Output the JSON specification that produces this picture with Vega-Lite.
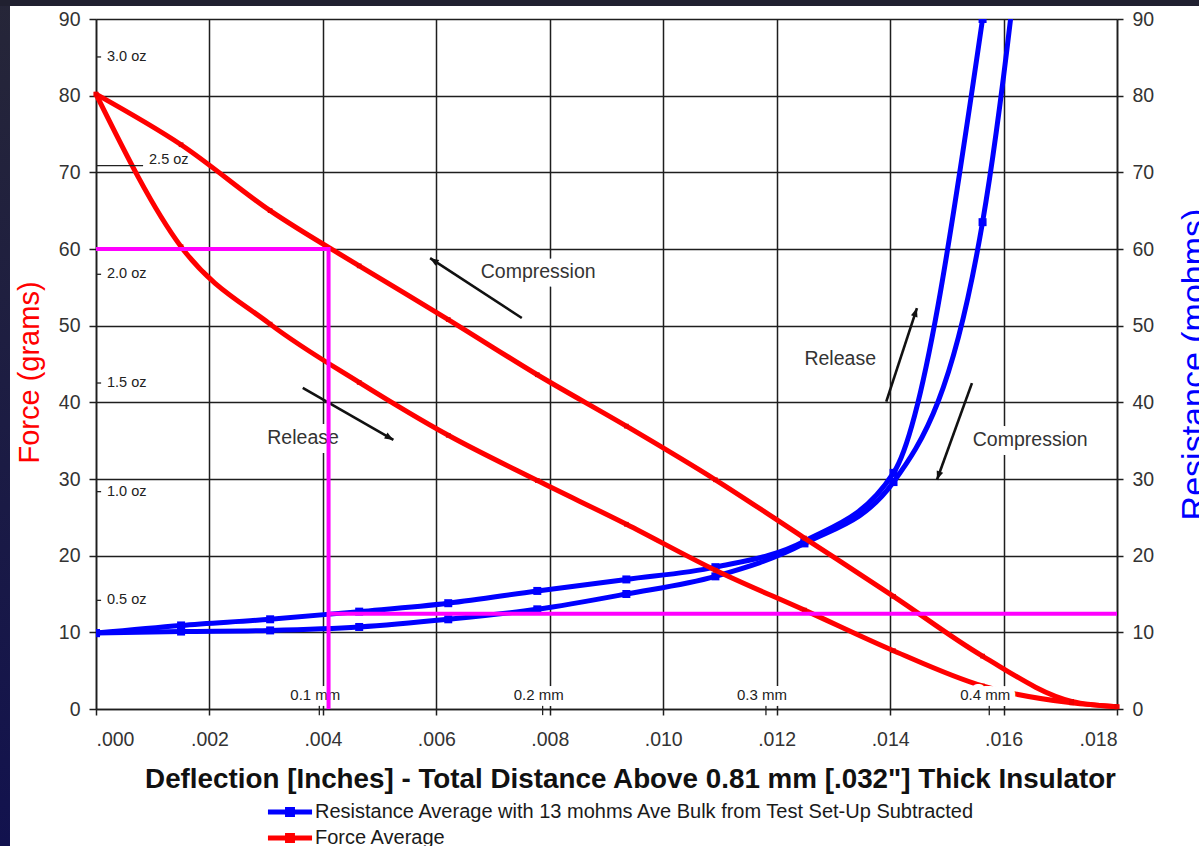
{
  "$schema": "https://vega.github.io/schema/vega-lite/v6.json",
  "width": 1021,
  "height": 690,
  "autosize": {"type": "none"},
  "padding": {"left": 96, "top": 19, "right": 82, "bottom": 137},
  "background": "white",
  "config": {
    "font": "Liberation Sans",
    "view": {"stroke": null},
    "axis": {
      "labelFont": "Liberation Sans",
      "titleFont": "Liberation Sans",
      "labelFontSize": 19.5,
      "labelColor": "#333333",
      "domainColor": "#1e1e1e",
      "domainWidth": 1.6,
      "tickColor": "#1e1e1e",
      "tickWidth": 1.5,
      "gridColor": "#1e1e1e",
      "gridWidth": 1.5,
      "gridOpacity": 1
    },
    "text": {"font": "Liberation Sans"}
  },
  "datasets": {
    "force": [
      {"series": "Force Average", "branch": "compression", "x": 0, "y": 80.2},
      {"series": "Force Average", "branch": "compression", "x": 0.0015, "y": 73.6},
      {"series": "Force Average", "branch": "compression", "x": 0.00307, "y": 65.0},
      {"series": "Force Average", "branch": "compression", "x": 0.00464, "y": 57.8},
      {"series": "Force Average", "branch": "compression", "x": 0.00621, "y": 50.8},
      {"series": "Force Average", "branch": "compression", "x": 0.00778, "y": 43.6},
      {"series": "Force Average", "branch": "compression", "x": 0.00935, "y": 36.9},
      {"series": "Force Average", "branch": "compression", "x": 0.01092, "y": 29.9},
      {"series": "Force Average", "branch": "compression", "x": 0.01249, "y": 22.3},
      {"series": "Force Average", "branch": "compression", "x": 0.01406, "y": 14.7},
      {"series": "Force Average", "branch": "compression", "x": 0.01563, "y": 6.9},
      {"series": "Force Average", "branch": "compression", "x": 0.0172, "y": 1.0},
      {"series": "Force Average", "branch": "compression", "x": 0.018, "y": 0.3},
      {"series": "Force Average", "branch": "release", "x": 0, "y": 80.2},
      {"series": "Force Average", "branch": "release", "x": 0.0015, "y": 60.3},
      {"series": "Force Average", "branch": "release", "x": 0.00307, "y": 50.2},
      {"series": "Force Average", "branch": "release", "x": 0.00464, "y": 42.6},
      {"series": "Force Average", "branch": "release", "x": 0.00621, "y": 35.7},
      {"series": "Force Average", "branch": "release", "x": 0.00778, "y": 29.8},
      {"series": "Force Average", "branch": "release", "x": 0.00935, "y": 24.1},
      {"series": "Force Average", "branch": "release", "x": 0.01092, "y": 18.1},
      {"series": "Force Average", "branch": "release", "x": 0.01249, "y": 12.9},
      {"series": "Force Average", "branch": "release", "x": 0.01406, "y": 7.6},
      {"series": "Force Average", "branch": "release", "x": 0.01563, "y": 3.0},
      {"series": "Force Average", "branch": "release", "x": 0.0172, "y": 0.8},
      {"series": "Force Average", "branch": "release", "x": 0.018, "y": 0.3}
    ],
    "resistance": [
      {"series": "Resistance Average with 13 mohms Ave Bulk from Test Set-Up Subtracted", "branch": "release", "x": 0, "y": 9.9},
      {"series": "Resistance Average with 13 mohms Ave Bulk from Test Set-Up Subtracted", "branch": "release", "x": 0.0015, "y": 10.9},
      {"series": "Resistance Average with 13 mohms Ave Bulk from Test Set-Up Subtracted", "branch": "release", "x": 0.00307, "y": 11.7},
      {"series": "Resistance Average with 13 mohms Ave Bulk from Test Set-Up Subtracted", "branch": "release", "x": 0.00464, "y": 12.7},
      {"series": "Resistance Average with 13 mohms Ave Bulk from Test Set-Up Subtracted", "branch": "release", "x": 0.00621, "y": 13.8},
      {"series": "Resistance Average with 13 mohms Ave Bulk from Test Set-Up Subtracted", "branch": "release", "x": 0.00778, "y": 15.4},
      {"series": "Resistance Average with 13 mohms Ave Bulk from Test Set-Up Subtracted", "branch": "release", "x": 0.00935, "y": 16.9},
      {"series": "Resistance Average with 13 mohms Ave Bulk from Test Set-Up Subtracted", "branch": "release", "x": 0.01092, "y": 18.5},
      {"series": "Resistance Average with 13 mohms Ave Bulk from Test Set-Up Subtracted", "branch": "release", "x": 0.01249, "y": 21.9},
      {"series": "Resistance Average with 13 mohms Ave Bulk from Test Set-Up Subtracted", "branch": "release", "x": 0.01406, "y": 30.8},
      {"series": "Resistance Average with 13 mohms Ave Bulk from Test Set-Up Subtracted", "branch": "release", "x": 0.01563, "y": 90},
      {"series": "Resistance Average with 13 mohms Ave Bulk from Test Set-Up Subtracted", "branch": "compression", "x": 0, "y": 9.9},
      {"series": "Resistance Average with 13 mohms Ave Bulk from Test Set-Up Subtracted", "branch": "compression", "x": 0.0015, "y": 10.1},
      {"series": "Resistance Average with 13 mohms Ave Bulk from Test Set-Up Subtracted", "branch": "compression", "x": 0.00307, "y": 10.25},
      {"series": "Resistance Average with 13 mohms Ave Bulk from Test Set-Up Subtracted", "branch": "compression", "x": 0.00464, "y": 10.7},
      {"series": "Resistance Average with 13 mohms Ave Bulk from Test Set-Up Subtracted", "branch": "compression", "x": 0.00621, "y": 11.7},
      {"series": "Resistance Average with 13 mohms Ave Bulk from Test Set-Up Subtracted", "branch": "compression", "x": 0.00778, "y": 13.0},
      {"series": "Resistance Average with 13 mohms Ave Bulk from Test Set-Up Subtracted", "branch": "compression", "x": 0.00935, "y": 15.0},
      {"series": "Resistance Average with 13 mohms Ave Bulk from Test Set-Up Subtracted", "branch": "compression", "x": 0.01092, "y": 17.3},
      {"series": "Resistance Average with 13 mohms Ave Bulk from Test Set-Up Subtracted", "branch": "compression", "x": 0.01249, "y": 21.6},
      {"series": "Resistance Average with 13 mohms Ave Bulk from Test Set-Up Subtracted", "branch": "compression", "x": 0.01406, "y": 29.6},
      {"series": "Resistance Average with 13 mohms Ave Bulk from Test Set-Up Subtracted", "branch": "compression", "x": 0.01563, "y": 63.5},
      {"series": "Resistance Average with 13 mohms Ave Bulk from Test Set-Up Subtracted", "branch": "compression", "x": 0.0172, "y": 170}
    ],
    "ounces": [
      {"label": "3.0 oz", "grams": 85.05, "leader": false},
      {"label": "2.5 oz", "grams": 70.87, "leader": true},
      {"label": "2.0 oz", "grams": 56.70, "leader": false},
      {"label": "1.5 oz", "grams": 42.52, "leader": false},
      {"label": "1.0 oz", "grams": 28.35, "leader": false},
      {"label": "0.5 oz", "grams": 14.17, "leader": false}
    ],
    "millimetres": [
      {"label": "0.1 mm", "x": 0.003937},
      {"label": "0.2 mm", "x": 0.007874},
      {"label": "0.3 mm", "x": 0.011811},
      {"label": "0.4 mm", "x": 0.015748}
    ],
    "notes": [
      {"label": "Compression", "x": 0.007795, "y": 57.0},
      {"label": "Release", "x": 0.00365, "y": 35.4},
      {"label": "Release", "x": 0.01312, "y": 45.6},
      {"label": "Compression", "x": 0.01647, "y": 35.1}
    ],
    "arrows": [
      {"x": 0.007507, "y": 51.0, "x2": 0.00589, "y2": 58.8, "angle": 303.2},
      {"x": 0.003645, "y": 41.9, "x2": 0.005243, "y2": 35.1, "angle": 119.7},
      {"x": 0.013932, "y": 40.1, "x2": 0.014473, "y2": 52.3, "angle": 18.2},
      {"x": 0.015443, "y": 42.5, "x2": 0.014826, "y2": 29.9, "angle": 199.9}
    ],
    "markers": [
      {"seg": "a", "i": 0, "x": 0, "y": 60},
      {"seg": "a", "i": 1, "x": 0.0041, "y": 60},
      {"seg": "a", "i": 2, "x": 0.0041, "y": 0},
      {"seg": "b", "i": 0, "x": 0.0041, "y": 12.43},
      {"seg": "b", "i": 1, "x": 0.018, "y": 12.43}
    ]
  },
  "layer": [
    {
      "data": {"name": "resistance"},
      "encoding": {
        "x": {
          "field": "x",
          "type": "quantitative",
          "scale": {"domain": [0, 0.018], "nice": false, "zero": false},
          "axis": {
            "orient": "bottom",
            "values": [0, 0.002, 0.004, 0.006, 0.008, 0.01, 0.012, 0.014, 0.016, 0.018],
            "labelExpr": "replace(format(datum.value, '.3f'), '0.', '.')",
            "grid": true,
            "tickSize": 6,
            "labelPadding": 15,
            "title": "Deflection [Inches] - Total Distance Above 0.81 mm [.032\"] Thick Insulator",
            "titleFontSize": 27.8,
            "titleFontWeight": "bold",
            "titleColor": "#111111",
            "titlePadding": 17,
            "titleX": 534
          }
        },
        "y": {
          "field": "y",
          "type": "quantitative",
          "scale": {"domain": [0, 90], "nice": false},
          "axis": {
            "orient": "right",
            "values": [0, 10, 20, 30, 40, 50, 60, 70, 80, 90],
            "grid": false,
            "tickSize": 6,
            "labelPadding": 9,
            "title": "Resistance (mohms)",
            "titleColor": "#0000ff",
            "titleFontSize": 34,
            "titleFontWeight": "normal",
            "titleAngle": 270,
            "titleBaseline": "top",
            "titlePadding": 24
          }
        }
      },
      "layer": [
        {
          "mark": {"type": "line", "interpolate": "monotone", "strokeWidth": 5, "clip": true, "strokeJoin": "round"},
          "encoding": {
            "color": {
              "field": "series",
              "type": "nominal",
              "scale": {
                "domain": ["Resistance Average with 13 mohms Ave Bulk from Test Set-Up Subtracted", "Force Average"],
                "range": ["#0000ff", "#ff0000"]
              },
              "legend": {
                "orient": "none",
                "legendX": 182,
                "legendY": 781,
                "direction": "vertical",
                "title": null,
                "padding": 0,
                "rowPadding": 0,
                "symbolType": "M-2.32,0L2.32,0M-0.26,-0.26L0.26,-0.26L0.26,0.26L-0.26,0.26Z",
                "symbolSize": 361,
                "symbolStrokeWidth": 5,
                "labelFont": "Liberation Sans",
                "labelFontSize": 20,
                "labelColor": "#1a1a1a",
                "labelOffset": 13,
                "labelLimit": 1000
              }
            },
            "detail": {"field": "branch"}
          }
        },
        {
          "mark": {"type": "point", "shape": "square", "filled": true, "size": 64, "color": "#0000ff", "opacity": 1, "clip": true},
          "encoding": {}
        }
      ]
    },
    {
      "layer": [
        {
          "data": {"name": "force"},
          "mark": {"type": "line", "interpolate": "monotone", "strokeWidth": 5, "strokeJoin": "round"},
          "encoding": {
            "x": {
              "field": "x",
              "type": "quantitative",
              "axis": {
                "orient": "bottom",
                "values": [0, 0.002, 0.004, 0.006, 0.008, 0.01, 0.012, 0.014, 0.016, 0.018],
                "labelExpr": "replace(format(datum.value, '.3f'), '0.', '.')",
                "grid": true,
                "tickSize": 6,
                "labelPadding": 15,
                "title": "Deflection [Inches] - Total Distance Above 0.81 mm [.032\"] Thick Insulator",
                "titleFontSize": 27.8,
                "titleFontWeight": "bold",
                "titleColor": "#111111",
                "titlePadding": 17,
                "titleX": 534
              }
            },
            "y": {
              "field": "y",
              "type": "quantitative",
              "scale": {"domain": [0, 90], "nice": false},
              "axis": {
                "orient": "left",
                "values": [0, 10, 20, 30, 40, 50, 60, 70, 80, 90],
                "grid": true,
                "tickSize": 7,
                "labelPadding": 9,
                "title": "Force (grams)",
                "titleColor": "#ff0000",
                "titleFontSize": 29,
                "titleFontWeight": "normal",
                "titlePadding": 14,
                "titleY": 353
              }
            },
            "color": {"field": "series", "type": "nominal"},
            "detail": {"field": "branch"}
          }
        },
        {
          "data": {"name": "force"},
          "mark": {"type": "point", "shape": "square", "filled": true, "size": 22, "color": "#ee0000", "opacity": 1},
          "encoding": {
            "x": {"field": "x", "type": "quantitative"},
            "y": {"field": "y", "type": "quantitative"}
          }
        },
        {
          "data": {"values": [{}]},
          "mark": {
            "type": "rect",
            "color": {
              "gradient": "linear",
              "x1": 0, "y1": 0, "x2": 0, "y2": 1,
              "stops": [
                {"offset": 0, "color": "#262638"},
                {"offset": 1, "color": "#12124e"}
              ]
            }
          },
          "encoding": {
            "x": {"datum": -0.01, "type": "quantitative"},
            "x2": {"datum": -0.0015162},
            "y": {"datum": -17.87, "type": "quantitative"},
            "y2": {"datum": 92.6}
          }
        },
        {
          "data": {"values": [{}]},
          "mark": {"type": "rect", "color": "#202030"},
          "encoding": {
            "x": {"datum": -0.01, "type": "quantitative"},
            "x2": {"datum": 0.03},
            "y": {"datum": 91.7, "type": "quantitative"},
            "y2": {"datum": 100}
          }
        },
        {
          "data": {"name": "ounces"},
          "transform": [{"filter": "!datum.leader"}],
          "mark": {"type": "rule", "color": "#222222", "strokeWidth": 1.3},
          "encoding": {
            "x": {"datum": 0, "type": "quantitative"},
            "x2": {"datum": 0.00009},
            "y": {"field": "grams", "type": "quantitative"}
          }
        },
        {
          "data": {"name": "ounces"},
          "transform": [{"filter": "datum.leader"}],
          "mark": {"type": "rule", "color": "#222222", "strokeWidth": 1.3},
          "encoding": {
            "x": {"datum": 0, "type": "quantitative"},
            "x2": {"datum": 0.00083},
            "y": {"field": "grams", "type": "quantitative"}
          }
        },
        {
          "data": {"name": "ounces"},
          "transform": [{"filter": "!datum.leader"}],
          "mark": {"type": "text", "align": "left", "baseline": "middle", "fontSize": 14.5, "color": "#222222"},
          "encoding": {
            "x": {"datum": 0.000194, "type": "quantitative"},
            "y": {"field": "grams", "type": "quantitative"},
            "text": {"field": "label"}
          }
        },
        {
          "data": {"name": "ounces"},
          "transform": [{"filter": "datum.leader"}],
          "mark": {"type": "text", "align": "left", "baseline": "middle", "fontSize": 14.5, "color": "#222222", "dy": -5.5},
          "encoding": {
            "x": {"datum": 0.000935, "type": "quantitative"},
            "y": {"field": "grams", "type": "quantitative"},
            "text": {"field": "label"}
          }
        },
        {
          "data": {"name": "millimetres"},
          "mark": {"type": "rule", "color": "#222222", "strokeWidth": 1.3},
          "encoding": {
            "x": {"field": "x", "type": "quantitative"},
            "y": {"datum": -0.8, "type": "quantitative"},
            "y2": {"datum": 0.95}
          }
        },
        {
          "data": {"name": "millimetres"},
          "mark": {"type": "text", "align": "center", "baseline": "middle", "fontSize": 15, "dx": -4, "color": "white", "stroke": "white", "strokeWidth": 12, "strokeJoin": "round"},
          "encoding": {
            "x": {"field": "x", "type": "quantitative"},
            "y": {"datum": 1.85, "type": "quantitative"},
            "text": {"field": "label"}
          }
        },
        {
          "data": {"name": "millimetres"},
          "mark": {"type": "text", "align": "center", "baseline": "middle", "fontSize": 15, "dx": -4, "color": "#222222"},
          "encoding": {
            "x": {"field": "x", "type": "quantitative"},
            "y": {"datum": 1.85, "type": "quantitative"},
            "text": {"field": "label"}
          }
        },
        {
          "data": {"name": "notes"},
          "mark": {"type": "text", "align": "center", "baseline": "middle", "fontSize": 19.5, "color": "white", "stroke": "white", "strokeWidth": 18, "strokeJoin": "round"},
          "encoding": {
            "x": {"field": "x", "type": "quantitative"},
            "y": {"field": "y", "type": "quantitative"},
            "text": {"field": "label"}
          }
        },
        {
          "data": {"name": "notes"},
          "mark": {"type": "text", "align": "center", "baseline": "middle", "fontSize": 19.5, "color": "#333333"},
          "encoding": {
            "x": {"field": "x", "type": "quantitative"},
            "y": {"field": "y", "type": "quantitative"},
            "text": {"field": "label"}
          }
        },
        {
          "data": {"name": "arrows"},
          "mark": {"type": "rule", "color": "#111111", "strokeWidth": 2.6},
          "encoding": {
            "x": {"field": "x", "type": "quantitative"},
            "y": {"field": "y", "type": "quantitative"},
            "x2": {"field": "x2"},
            "y2": {"field": "y2"}
          }
        },
        {
          "data": {"name": "arrows"},
          "mark": {"type": "point", "shape": "M0,0L-0.45,1.15L0.45,1.15Z", "filled": true, "size": 230, "color": "#111111", "opacity": 1},
          "encoding": {
            "x": {"field": "x2", "type": "quantitative"},
            "y": {"field": "y2", "type": "quantitative"},
            "angle": {"field": "angle", "type": "quantitative", "scale": null}
          }
        },
        {
          "data": {"name": "markers"},
          "mark": {"type": "line", "color": "#ff00ff", "strokeWidth": 4, "strokeJoin": "miter", "strokeCap": "butt"},
          "encoding": {
            "x": {"field": "x", "type": "quantitative"},
            "y": {"field": "y", "type": "quantitative"},
            "detail": {"field": "seg"},
            "order": {"field": "i", "type": "quantitative"}
          }
        }
      ]
    }
  ],
  "resolve": {"scale": {"y": "independent"}, "axis": {"y": "independent"}}
}
